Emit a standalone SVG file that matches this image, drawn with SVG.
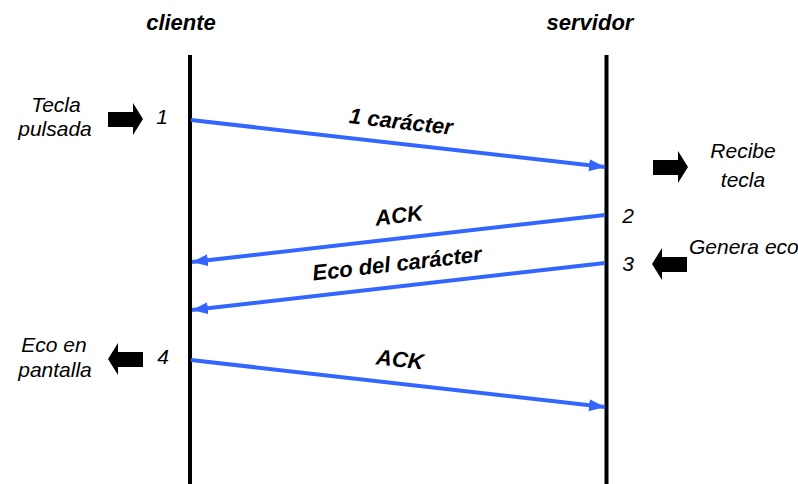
<svg xmlns="http://www.w3.org/2000/svg" width="798" height="484" viewBox="0 0 798 484">
<style>
.hdr{font-family:"Liberation Sans",Arial,sans-serif;font-weight:bold;font-style:italic;font-size:22px;fill:#000}
.lbl{font-family:"Liberation Sans",Arial,sans-serif;font-weight:bold;font-style:italic;font-size:22px;fill:#000}
.note{font-family:"Liberation Sans",Arial,sans-serif;font-style:italic;font-size:21px;fill:#000}
.life{stroke:#000;stroke-width:4;fill:none}
.msg{stroke:#3366FF;stroke-width:4;fill:none;marker-end:url(#ah)}
.blk{fill:#000}
</style>
<defs>
<marker id="ah" markerUnits="userSpaceOnUse" markerWidth="18" markerHeight="14" refX="16" refY="6" orient="auto">
<path d="M0,0 L16,6 L0,12 Z" fill="#3366FF"/>
</marker>
<path id="rarrow" d="M0,9 H25 V0 L35,16 L25,32 V24 H0 Z"/>
<path id="larrow" d="M35,9 H10 V0 L0,16 L10,32 V24 H35 Z"/>
</defs>
<rect width="798" height="484" fill="#fff"/>

<g id="cliente">
<text class="hdr" x="181" y="30" text-anchor="middle">cliente</text>
<line class="life" x1="190" y1="55" x2="190" y2="484"/>
</g>
<g id="servidor">
<text class="hdr" x="590" y="30" text-anchor="middle">servidor</text>
<line class="life" x1="606.5" y1="55" x2="606.5" y2="484"/>
</g>

<g id="connectors">
<line class="msg" x1="191" y1="120" x2="605" y2="167"/>
<line class="msg" x1="605" y1="215" x2="192" y2="262"/>
<line class="msg" x1="605" y1="263" x2="192" y2="310"/>
<line class="msg" x1="191" y1="360" x2="605" y2="407"/>
<text class="lbl" text-anchor="middle" transform="translate(401,122) rotate(6.5)" y="7">1 carácter</text>
<text class="lbl" text-anchor="middle" transform="translate(399,216) rotate(-6.5)" y="7">ACK</text>
<text class="lbl" text-anchor="middle" transform="translate(397,264) rotate(-6.5)" y="7">Eco del carácter</text>
<text class="lbl" text-anchor="middle" transform="translate(400,360) rotate(6.5)" y="7">ACK</text>
</g>

<g id="evento1">
<text class="note" x="56" y="112" text-anchor="middle">Tecla</text>
<text class="note" x="55" y="136" text-anchor="middle">pulsada</text>
<use href="#rarrow" class="blk" x="108" y="103"/>
<text class="note" x="162" y="124" text-anchor="middle">1</text>
</g>
<g id="evento-recibe">
<use href="#rarrow" class="blk" x="653" y="151"/>
<text class="note" x="743" y="158" text-anchor="middle">Recibe</text>
<text class="note" x="743" y="187" text-anchor="middle">tecla</text>
</g>
<g id="evento2">
<text class="note" x="628" y="223" text-anchor="middle">2</text>
</g>
<g id="evento3">
<text class="note" x="628" y="271" text-anchor="middle">3</text>
<use href="#larrow" class="blk" x="652" y="248"/>
<text class="note" x="689" y="254">Genera eco</text>
</g>
<g id="evento4">
<text class="note" x="54" y="352" text-anchor="middle">Eco en</text>
<text class="note" x="55" y="377" text-anchor="middle">pantalla</text>
<use href="#larrow" class="blk" x="108" y="343"/>
<text class="note" x="163" y="364" text-anchor="middle">4</text>
</g>
</svg>
